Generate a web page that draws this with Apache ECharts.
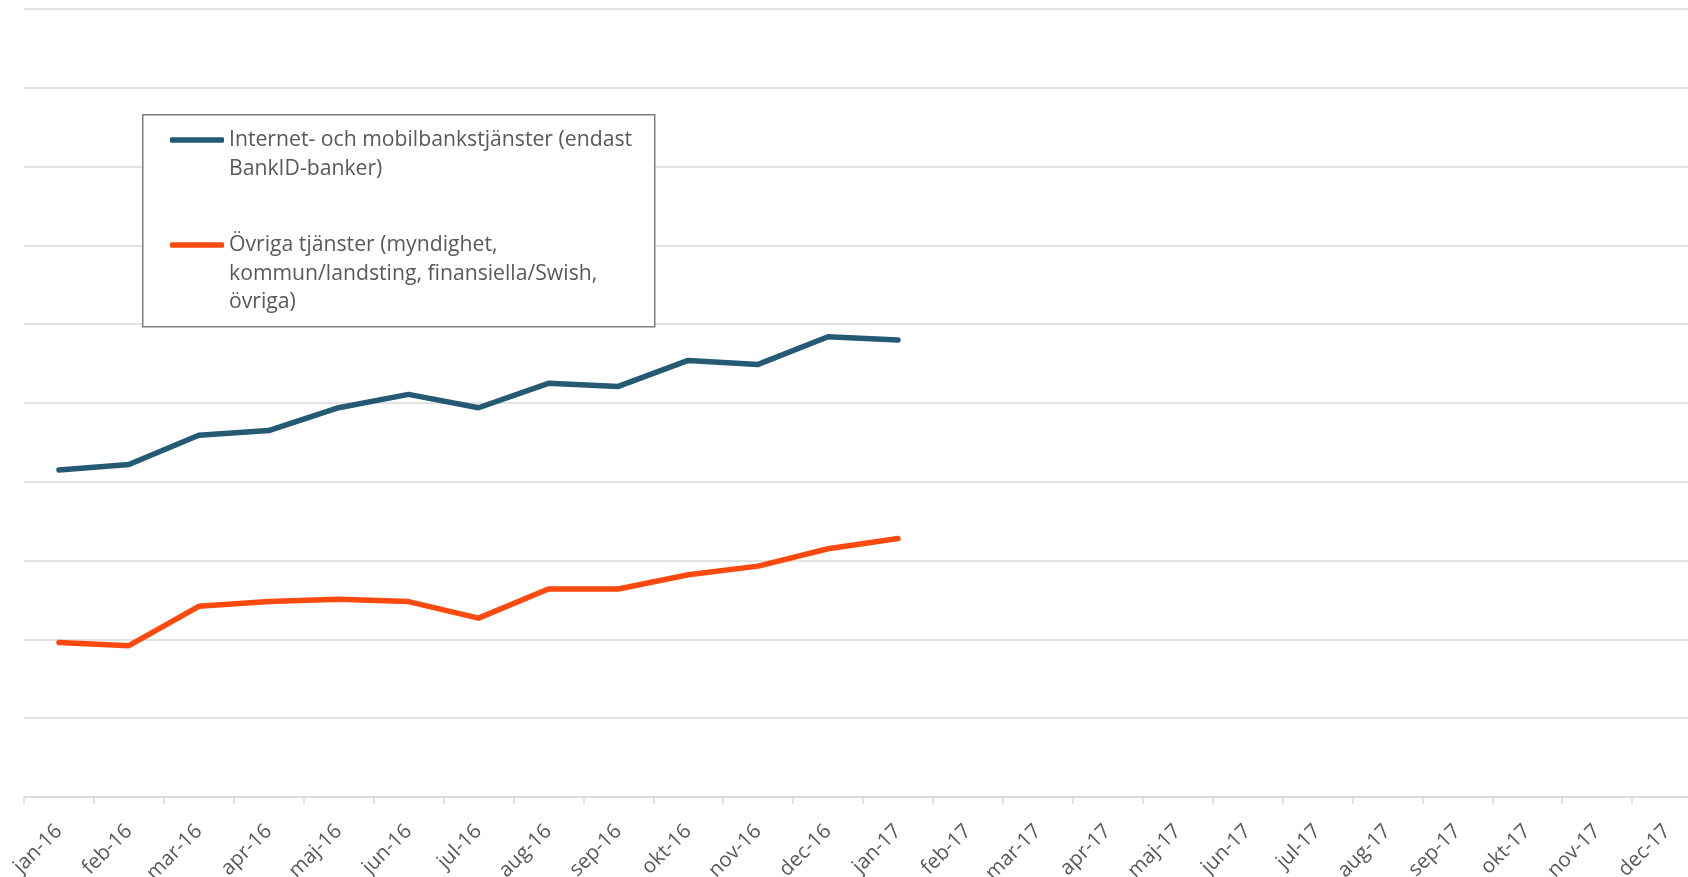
<!DOCTYPE html>
<html>
<head>
<meta charset="utf-8">
<script src="https://cdn.jsdelivr.net/npm/echarts@6/dist/echarts.min.js"></script>
<style>
html,body{margin:0;padding:0;background:#fff;}
#chart{width:1688px;height:877px;}
</style>
</head>
<body>
<div id="chart"></div>
<script>
const categories = ['jan-16','feb-16','mar-16','apr-16','maj-16','jun-16','jul-16','aug-16','sep-16','okt-16','nov-16','dec-16',
  'jan-17','feb-17','mar-17','apr-17','maj-17','jun-17','jul-17','aug-17','sep-17','okt-17','nov-17','dec-17'];
const seriesNames = ['Internet- och mobilbankstjänster (endast BankID-banker)',
  'Övriga tjänster (myndighet, kommun/landsting, finansiella/Swish, övriga)'];
const legendLines = [
  ['Internet- och mobilbankstjänster (endast', 'BankID-banker)'],
  ['Övriga tjänster (myndighet,', 'kommun/landsting, finansiella/Swish,', 'övriga)']
];
const bankValues = [41.5, 42.2, 45.9, 46.5, 49.4, 51.1, 49.4, 52.5, 52.1, 55.4, 54.9, 58.4, 58.0];
const otherValues = [19.6, 19.2, 24.2, 24.8, 25.1, 24.8, 22.7, 26.4, 26.4, 28.2, 29.3, 31.5, 32.8];
const yMin = 0, yMax = 100, yStep = 10;

const colors = ['#245A73', '#FF4A0F'];
const FONT = 'Open Sans';
const LH = 28.5;

function legendFor(i, iconY) {
  const lines = legendLines[i];
  const n = lines.length;
  // blank lines above so that the icon (centred on the block) sits beside the first line
  const text = new Array(n - 1).fill(' ').concat(lines).join('\n');
  const blockH = (2 * n - 1) * LH;
  return {
    data: [seriesNames[i]],
    orient: 'vertical',
    left: 170,
    top: iconY - blockH / 2,
    padding: 0,
    itemWidth: 54,
    itemHeight: 5.5,
    itemGap: 0,
    icon: 'roundRect',
    selectedMode: false,
    formatter: () => text,
    textStyle: { fontFamily: FONT, fontSize: 21.2, color: '#595959', lineHeight: LH },
    z: 10
  };
}

const chart = echarts.init(document.getElementById('chart'), null, { renderer: 'canvas' });
chart.setOption({
  backgroundColor: '#ffffff',
  animation: false,
  color: colors,
  grid: { left: 24, top: 9, width: 1678, bottom: 80, containLabel: false, outerBoundsMode: 'none' },
  graphic: [{
    type: 'rect',
    left: 142, top: 114, z: 5,
    shape: { width: 512, height: 212 },
    style: { fill: '#ffffff', stroke: '#7f7f7f', lineWidth: 1.5 }
  }],
  legend: [legendFor(0, 140), legendFor(1, 245)],
  xAxis: {
    type: 'category',
    data: categories,
    boundaryGap: true,
    axisLine: { lineStyle: { color: '#d9d9d9', width: 1.5 } },
    axisTick: { show: true, length: 7, alignWithLabel: false, lineStyle: { color: '#d9d9d9', width: 1.5 } },
    axisLabel: { interval: 0, rotate: 45, margin: 31, fontFamily: FONT, fontSize: 20.5, color: '#595959' }
  },
  yAxis: {
    type: 'value',
    min: yMin, max: yMax, interval: yStep,
    axisLabel: { show: false },
    axisLine: { show: false },
    axisTick: { show: false },
    splitLine: { lineStyle: { color: '#d9d9d9', width: 1.5 } }
  },
  series: [
    { name: seriesNames[0], type: 'line', data: bankValues, showSymbol: false, symbol: 'none',
      lineStyle: { width: 5.5, color: colors[0], cap: 'round', join: 'round' }, z: 3 },
    { name: seriesNames[1], type: 'line', data: otherValues, showSymbol: false, symbol: 'none',
      lineStyle: { width: 5.5, color: colors[1], cap: 'round', join: 'round' }, z: 3 }
  ]
});
</script>
</body>
</html>
